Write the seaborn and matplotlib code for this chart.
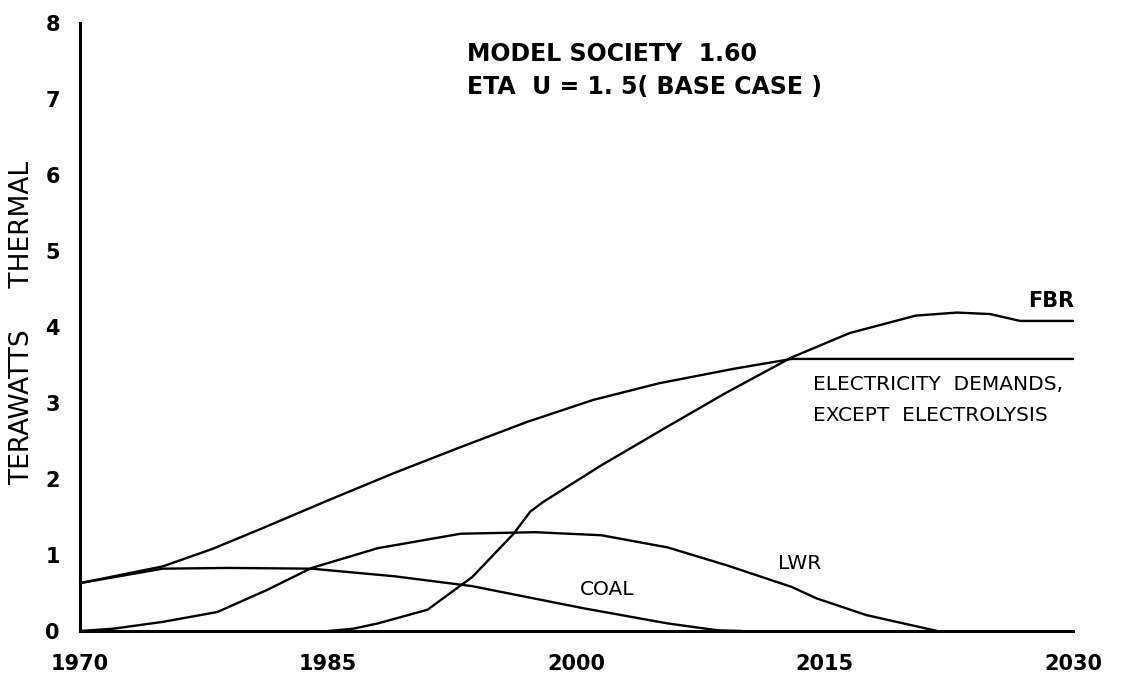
import seaborn as sns
import matplotlib.pyplot as plt
import pandas as pd

# values (terawatts thermal)
demand_years = [1970, 1972.5, 1975, 1978, 1981, 1985, 1989, 1993, 1997, 2001, 2005, 2009.5, 2013, 2030]
demand_tw = [0.63, 0.74, 0.85, 1.08, 1.35, 1.72, 2.08, 2.42, 2.75, 3.04, 3.26, 3.45, 3.58, 3.58]

fbr_years = [1985, 1986.5, 1988, 1991, 1993.7, 1996.2, 1997.2, 1998, 2001.5, 2005.5, 2009,
             2013, 2016.5, 2020.5, 2023, 2025, 2026.8, 2030]
fbr_tw = [0, 0.03, 0.1, 0.28, 0.71, 1.28, 1.57, 1.7, 2.18, 2.69, 3.13, 3.6, 3.92, 4.15, 4.19, 4.17,
          4.08, 4.08]

lwr_years = [1970, 1972, 1975, 1978.3, 1981.3, 1984, 1988, 1993, 1997.5, 2001.5, 2005.5, 2009,
             2013, 2014.5, 2017.5, 2021.8]
lwr_tw = [0, 0.03, 0.12, 0.25, 0.54, 0.83, 1.09, 1.28, 1.3, 1.26, 1.1, 0.87, 0.58, 0.43, 0.21, 0.0]

coal_years = [1970, 1975, 1979, 1984, 1989, 1993.7, 2000.4, 2005.5, 2008.5, 2010]
coal_tw = [0.63, 0.82, 0.83, 0.82, 0.72, 0.59, 0.3, 0.1, 0.01, 0.0]

x_ticks = [1970, 1985, 2000, 2015, 2030]
y_ticks = [0, 1, 2, 3, 4, 5, 6, 7, 8]

frames = []
for name, xs, ys in [("demand", demand_years, demand_tw), ("FBR", fbr_years, fbr_tw),
                     ("LWR", lwr_years, lwr_tw), ("COAL", coal_years, coal_tw)]:
    frames.append(pd.DataFrame({"year": xs, "tw": ys, "series": name}))
df = pd.concat(frames, ignore_index=True)

sns.set_style("white")
plt.rcParams['font.family'] = ['DejaVu Sans']
plt.rcParams['text.color'] = 'black'

fig = plt.figure(figsize=(11.38, 6.79), dpi=100)
ax = fig.add_axes([80 / 1138, 48 / 679, 993 / 1138, 608 / 679])

sns.lineplot(data=df, x="year", y="tw", units="series", estimator=None, sort=False,
             color="black", linewidth=1.7, ax=ax, legend=False)
for line in ax.lines:
    line.set_clip_on(False)

ax.set_xlim(1970, 2030)
ax.set_ylim(0, 8)
ax.set_xticks(x_ticks)
ax.set_yticks(y_ticks)
ax.set_xlabel("")
ax.set_ylabel("")
sns.despine(ax=ax)
for s in ["left", "bottom"]:
    ax.spines[s].set_linewidth(2.2)
    ax.spines[s].set_color("black")
ax.tick_params(direction="inout", length=13, width=1.6, colors="black")
ax.tick_params(axis="x", pad=10, labelsize=15)
ax.tick_params(axis="y", pad=8, labelsize=15)
for lab in ax.get_xticklabels() + ax.get_yticklabels():
    lab.set_fontweight("bold")

fig.text(22 / 1138, 1 - 323 / 679, "TERAWATTS     THERMAL", rotation=90,
         ha="center", va="center", fontsize=19, color="black")

ax.text(1993.4, 7.59, "MODEL SOCIETY  1.60", fontsize=17, fontweight="bold", va="center")
ax.text(1993.4, 7.16, "ETA  U = 1. 5( BASE CASE )", fontsize=17, fontweight="bold", va="center")
ax.text(2014.3, 3.24, "ELECTRICITY  DEMANDS,", fontsize=14.5, fontweight="medium", va="center")
ax.text(2014.3, 2.84, "EXCEPT  ELECTROLYSIS", fontsize=14.5, fontweight="medium", va="center")
ax.text(2027.3, 4.34, "FBR", fontsize=15, fontweight="bold", va="center")
ax.text(2012.2, 0.89, "LWR", fontsize=14.5, fontweight="medium", va="center")
ax.text(2000.2, 0.54, "COAL", fontsize=14.5, fontweight="medium", va="center")

fig.savefig("out.png", dpi=100)
